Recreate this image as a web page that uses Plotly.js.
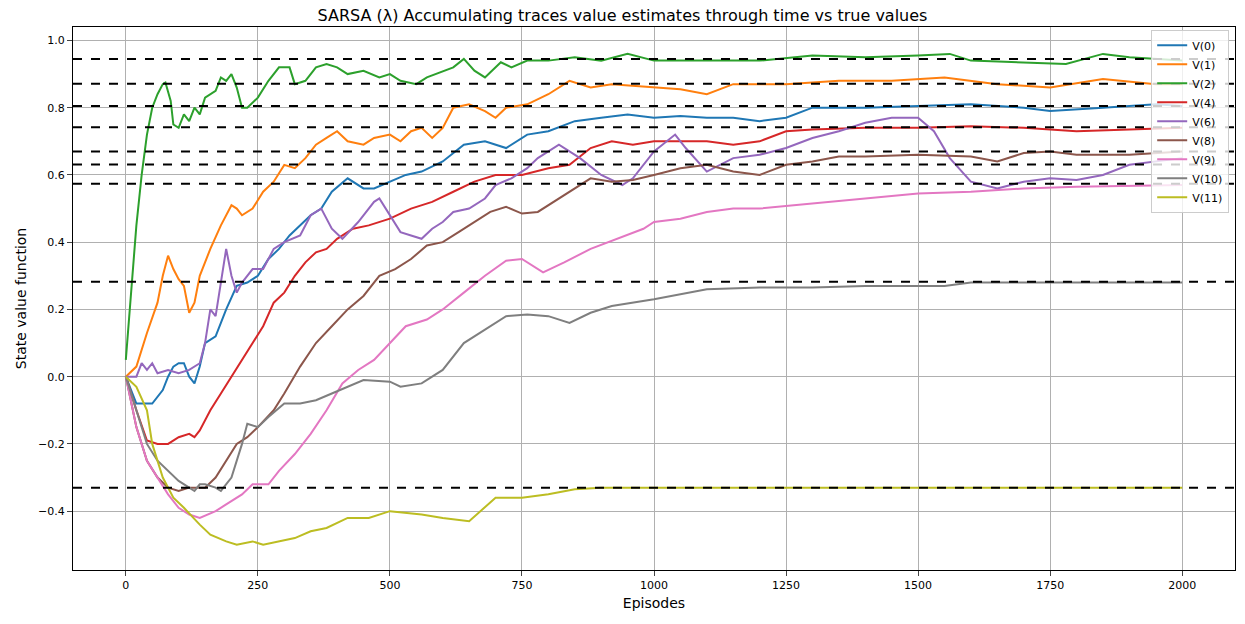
<!DOCTYPE html><html><head><meta charset="utf-8"><script src="https://cdn.plot.ly/plotly-3.0.1.min.js"></script></head><body style="margin:0"><div id="c" style="width:1245px;height:624px"></div><script>
const names=["V(0)","V(1)","V(2)","V(4)","V(6)","V(8)","V(9)","V(10)","V(11)"];
const colors=["#1f77b4","#ff7f0e","#2ca02c","#d62728","#9467bd","#8c564b","#e377c2","#7f7f7f","#bcbd22"];
const trueValues=[0.945,0.871,0.805,0.742,0.670,0.631,0.574,0.282,-0.330];
const v0=[[0,0],[10,-0.04],[20,-0.08],[30,-0.08],[50,-0.08],[70,-0.04],[80,0],[90,0.03],[100,0.04],[110,0.04],[120,0],[130,-0.02],[140,0.03],[150,0.1],[170,0.12],[190,0.2],[210,0.27],[230,0.28],[250,0.3],[270,0.35],[290,0.38],[310,0.42],[330,0.45],[350,0.48],[370,0.5],[390,0.55],[420,0.59],[450,0.56],[470,0.56],[500,0.58],[530,0.6],[560,0.61],[600,0.64],[640,0.69],[680,0.7],[720,0.68],[760,0.72],[800,0.73],[850,0.76],[900,0.77],[950,0.78],[1000,0.77],[1050,0.775],[1100,0.77],[1150,0.77],[1200,0.76],[1250,0.77],[1300,0.8],[1350,0.8],[1400,0.8],[1500,0.805],[1600,0.81],[1700,0.8],[1750,0.79],[1850,0.8],[1950,0.81],[2000,0.805]];
const v1=[[0,0],[20,0.03],[40,0.13],[60,0.22],[70,0.3],[80,0.36],[90,0.32],[100,0.29],[110,0.27],[120,0.19],[130,0.22],[140,0.3],[160,0.38],[180,0.45],[200,0.51],[210,0.5],[220,0.48],[240,0.5],[260,0.55],[280,0.58],[300,0.63],[320,0.62],[340,0.65],[360,0.69],[380,0.71],[400,0.73],[420,0.7],[450,0.69],[470,0.71],[500,0.72],[520,0.7],[540,0.73],[560,0.74],[580,0.71],[600,0.74],[620,0.8],[650,0.81],[680,0.79],[700,0.77],[720,0.8],[760,0.81],[800,0.84],[840,0.88],[880,0.86],[920,0.87],[1000,0.86],[1050,0.855],[1100,0.84],[1150,0.87],[1250,0.87],[1350,0.88],[1450,0.88],[1550,0.89],[1650,0.87],[1750,0.86],[1850,0.885],[1950,0.87],[2000,0.87]];
const v2=[[0,0.05],[10,0.25],[20,0.45],[30,0.6],[40,0.72],[50,0.8],[60,0.84],[70,0.87],[75,0.875],[85,0.82],[90,0.75],[100,0.74],[110,0.78],[120,0.76],[130,0.8],[140,0.78],[150,0.83],[170,0.85],[180,0.89],[190,0.88],[200,0.9],[210,0.86],[220,0.8],[230,0.8],[250,0.83],[270,0.88],[290,0.92],[310,0.92],[320,0.87],[340,0.88],[360,0.92],[380,0.93],[400,0.92],[420,0.9],[450,0.91],[480,0.89],[500,0.9],[520,0.88],[550,0.87],[570,0.89],[620,0.92],[640,0.945],[660,0.91],[680,0.89],[710,0.935],[730,0.92],[760,0.94],[800,0.94],[850,0.95],[900,0.94],[950,0.96],[1000,0.94],[1100,0.94],[1200,0.94],[1300,0.955],[1400,0.95],[1500,0.955],[1560,0.96],[1600,0.94],[1700,0.935],[1780,0.93],[1850,0.96],[1900,0.95],[2000,0.94]];
const v4=[[0,0],[20,-0.1],[40,-0.19],[60,-0.2],[80,-0.2],[100,-0.18],[120,-0.17],[130,-0.18],[140,-0.16],[160,-0.1],[180,-0.05],[200,0],[220,0.05],[240,0.1],[260,0.15],[280,0.22],[300,0.25],[320,0.3],[340,0.34],[360,0.37],[380,0.38],[400,0.41],[430,0.44],[460,0.45],[480,0.46],[500,0.47],[540,0.5],[580,0.52],[620,0.55],[660,0.58],[700,0.6],[750,0.6],[800,0.62],[840,0.63],[880,0.68],[920,0.7],[960,0.69],[1000,0.7],[1100,0.7],[1150,0.69],[1200,0.7],[1250,0.73],[1300,0.735],[1400,0.74],[1500,0.74],[1600,0.745],[1700,0.74],[1800,0.73],[1900,0.735],[2000,0.74]];
const v6=[[0,0],[20,0],[30,0.04],[40,0.02],[50,0.04],[60,0.01],[80,0.02],[100,0.01],[120,0.02],[140,0.04],[150,0.1],[160,0.2],[170,0.18],[180,0.28],[190,0.38],[200,0.3],[210,0.25],[220,0.28],[240,0.32],[260,0.32],[280,0.38],[300,0.4],[330,0.42],[350,0.48],[370,0.5],[390,0.44],[410,0.41],[440,0.46],[470,0.52],[480,0.53],[500,0.48],[520,0.43],[540,0.42],[560,0.41],[580,0.44],[600,0.46],[620,0.49],[650,0.5],[680,0.53],[700,0.57],[730,0.59],[760,0.62],[780,0.65],[820,0.69],[860,0.65],[900,0.6],[940,0.57],[960,0.59],[1000,0.67],[1040,0.72],[1060,0.68],[1100,0.61],[1150,0.65],[1200,0.66],[1250,0.68],[1300,0.71],[1350,0.73],[1400,0.755],[1450,0.77],[1500,0.77],[1530,0.73],[1560,0.65],[1600,0.58],[1650,0.56],[1700,0.58],[1750,0.59],[1800,0.585],[1850,0.6],[1900,0.63],[1950,0.64],[2000,0.65]];
const v8=[[0,0],[20,-0.15],[40,-0.25],[60,-0.3],[80,-0.33],[100,-0.34],[120,-0.33],[150,-0.33],[170,-0.3],[190,-0.25],[210,-0.2],[230,-0.18],[250,-0.15],[280,-0.1],[300,-0.05],[330,0.03],[360,0.1],[390,0.15],[420,0.2],[450,0.24],[480,0.3],[510,0.32],[540,0.35],[570,0.39],[600,0.4],[630,0.43],[660,0.46],[690,0.49],[720,0.505],[750,0.485],[780,0.49],[810,0.52],[850,0.56],[880,0.59],[920,0.58],[960,0.585],[1000,0.6],[1050,0.62],[1100,0.63],[1150,0.61],[1200,0.6],[1250,0.63],[1300,0.64],[1350,0.655],[1400,0.655],[1500,0.66],[1600,0.655],[1650,0.64],[1700,0.665],[1750,0.67],[1800,0.66],[1900,0.66],[2000,0.67]];
const v9=[[0,0],[20,-0.15],[40,-0.25],[60,-0.3],[80,-0.35],[100,-0.39],[120,-0.41],[140,-0.42],[170,-0.4],[190,-0.38],[220,-0.35],[240,-0.32],[270,-0.32],[290,-0.28],[320,-0.23],[350,-0.17],[380,-0.1],[410,-0.02],[440,0.02],[470,0.05],[500,0.1],[530,0.15],[570,0.17],[600,0.2],[640,0.25],[680,0.3],[720,0.345],[750,0.35],[790,0.31],[830,0.34],[880,0.38],[930,0.41],[980,0.44],[1000,0.46],[1050,0.47],[1100,0.49],[1150,0.5],[1200,0.5],[1300,0.515],[1400,0.53],[1500,0.545],[1600,0.55],[1700,0.56],[1800,0.565],[2000,0.57]];
const v10=[[0,0],[20,-0.1],[40,-0.2],[60,-0.25],[80,-0.28],[100,-0.31],[120,-0.33],[130,-0.34],[140,-0.32],[150,-0.32],[170,-0.33],[180,-0.34],[200,-0.3],[220,-0.2],[230,-0.14],[250,-0.15],[270,-0.12],[300,-0.08],[330,-0.08],[360,-0.07],[390,-0.05],[420,-0.03],[450,-0.01],[500,-0.015],[520,-0.03],[560,-0.02],[600,0.02],[640,0.1],[680,0.14],[720,0.18],[760,0.185],[800,0.18],[840,0.16],[880,0.19],[920,0.21],[960,0.22],[1000,0.23],[1100,0.26],[1200,0.265],[1300,0.265],[1400,0.27],[1500,0.27],[1550,0.27],[1600,0.28],[2000,0.28]];
const v11=[[0,0],[20,-0.03],[40,-0.1],[50,-0.2],[70,-0.3],[90,-0.36],[110,-0.39],[140,-0.44],[160,-0.47],[190,-0.49],[210,-0.5],[240,-0.49],[260,-0.5],[290,-0.49],[320,-0.48],[350,-0.46],[380,-0.45],[420,-0.42],[460,-0.42],[500,-0.4],[560,-0.41],[600,-0.42],[650,-0.43],[700,-0.36],[750,-0.36],[800,-0.35],[850,-0.335],[900,-0.33],[2000,-0.33]];
const series=[v0,v1,v2,v4,v6,v8,v9,v10,v11];
const traces=series.map((s,i)=>({x:s.map(p=>p[0]),y:s.map(p=>p[1]),name:names[i],mode:'lines',line:{color:colors[i],width:2}}));
const shapes=trueValues.map(v=>({type:'line',xref:'paper',x0:0,x1:1,yref:'y',y0:v,y1:v,line:{color:'black',width:2,dash:'dash'}}));
Plotly.newPlot('c',traces,{width:1245,height:624,margin:{l:73,r:10,t:27,b:54},
title:{text:'SARSA (λ) Accumulating traces value estimates through time vs true values',font:{family:'DejaVu Sans',size:16,color:'black'},y:0.985},
font:{family:'DejaVu Sans',size:12,color:'black'},
xaxis:{title:{text:'Episodes',standoff:6},tickfont:{size:11},range:[-100,2100],tickvals:[0,250,500,750,1000,1250,1500,1750,2000],showgrid:true,gridcolor:'#b0b0b0',zeroline:false,showline:true,mirror:true,linecolor:'black',ticks:'outside'},
yaxis:{title:{text:'State value function',standoff:8},tickfont:{size:11},range:[-0.575,1.04],dtick:0.2,tickformat:'.1f',showgrid:true,gridcolor:'#b0b0b0',zeroline:false,showline:true,mirror:true,linecolor:'black',ticks:'outside'},
shapes:shapes,plot_bgcolor:'white',
legend:{x:0.995,y:0.995,xanchor:'right',yanchor:'top',bgcolor:'rgba(255,255,255,0.8)',bordercolor:'#ccc',borderwidth:1,font:{size:11}}},{displayModeBar:false});
</script></body></html>
